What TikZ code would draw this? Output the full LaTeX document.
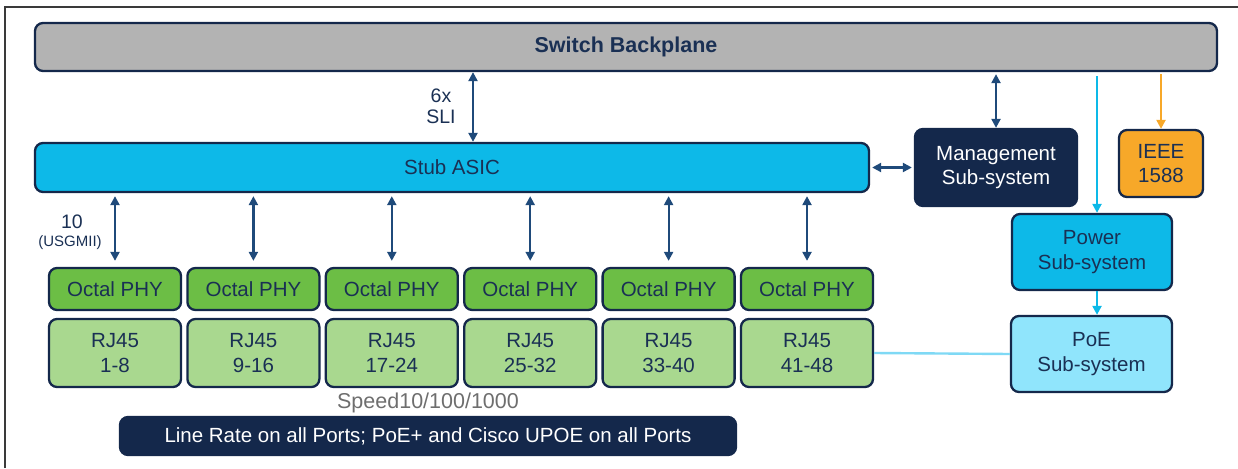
\documentclass[tikz,border=0pt]{standalone}
\usepackage{fontspec}
\setmainfont{Liberation Sans}
\usetikzlibrary{arrows.meta}
\definecolor{navy}{HTML}{14284B}
\definecolor{arrowblue}{HTML}{1F4A7A}
\definecolor{txtblue}{HTML}{1A3054}
\definecolor{framegray}{HTML}{3A3A3A}
\definecolor{plane}{HTML}{B3B3B3}
\definecolor{asicblue}{HTML}{0DB9E8}
\definecolor{poeblue}{HTML}{90E5FC}
\definecolor{ieeeorange}{HTML}{F7A829}
\definecolor{phygreen}{HTML}{6CBE45}
\definecolor{rjgreen}{HTML}{A9D88F}
\definecolor{speedgray}{HTML}{6E6E6E}
\definecolor{poeline}{HTML}{7FD9F5}
\tikzset{
	blk/.style = {draw = navy, line width = 2.3pt, rounded corners = 8pt, inner sep = 0pt, align = center, text = txtblue, font = \fontsize{20.5}{24.5}\selectfont},
	link/.style = {draw = arrowblue, line width = 2.2pt, {Triangle[length=9pt,width=9pt]}-{Triangle[length=9pt,width=9pt]}},
	feed/.style = {line width = 2.2pt, -{Triangle[length=9pt,width=9pt]}},
	lbl/.style = {text = txtblue, align = center, inner sep = 0pt}
}
\newcommand{\subsys}{\node[blk]}
\newcommand{\phybox}{\node[blk, fill = phygreen, minimum width = 132pt, minimum height = 42pt]}
\newcommand{\rjbox}{\node[blk, fill = rjgreen, minimum width = 132pt, minimum height = 68pt]}
\begin{document}
\begin{tikzpicture}[x = 1pt, y = -1pt]
	\useasboundingbox (0,0) rectangle (1238,468);
	\draw[draw = framegray, line width = 1.6pt] (5,468) -- (5,7) -- (1238,7);
	\subsys (bp) [fill = plane, minimum width = 1182pt, minimum height = 48pt, font = \fontsize{21.5}{24}\selectfont\bfseries] at (626,47) {Switch Backplane};
	\subsys (asic) [fill = asicblue, minimum width = 834pt, minimum height = 49pt] at (452,167.5) {Stub ASIC};
	\subsys (mgmt) [fill = navy, text = white, minimum width = 162pt, minimum height = 77pt] at (996,167.5) {Management\\Sub-system};
	\subsys (ieee) [fill = ieeeorange, minimum width = 84pt, minimum height = 67pt] at (1161,163.5) {IEEE\\1588};
	\subsys (power) [fill = asicblue, minimum width = 160pt, minimum height = 76pt] at (1092,252) {Power\\Sub-system};
	\subsys (poe) [fill = poeblue, minimum width = 161pt, minimum height = 76pt] at (1091.5,354) {PoE\\Sub-system};
	\phybox (phya) at (115,289) {Octal PHY};
	\phybox (phyb) at (253.4,289) {Octal PHY};
	\phybox (phyc) at (391.8,289) {Octal PHY};
	\phybox (phyd) at (530.2,289) {Octal PHY};
	\phybox (phye) at (668.6,289) {Octal PHY};
	\phybox (phyf) at (807,289) {Octal PHY};
	\rjbox (rja) at (115,353) {RJ45\\1-8};
	\rjbox (rjb) at (253.4,353) {RJ45\\9-16};
	\rjbox (rjc) at (391.8,353) {RJ45\\17-24};
	\rjbox (rjd) at (530.2,353) {RJ45\\25-32};
	\rjbox (rje) at (668.6,353) {RJ45\\33-40};
	\rjbox (rjf) at (807,353) {RJ45\\41-48};
	\subsys (rate) [fill = navy, text = white, minimum width = 616pt, minimum height = 38pt] at (428,436) {Line Rate on all Ports; PoE+ and Cisco UPOE on all Ports};
	\node[lbl, font = \fontsize{19.5}{21.5}\selectfont] (sli) at (441,106.5) {6x\\SLI};
	\node[lbl, font = \fontsize{19.5}{22}\selectfont] (ten) at (72,222) {10};
	\node[lbl, font = \fontsize{15}{16}\selectfont] (usg) at (70,243) {(USGMII)};
	\node[lbl, text = speedgray, font = \fontsize{21.5}{24}\selectfont] (speed) at (428,403) {Speed10/100/1000};
	\draw[link] ([xshift=21pt]asic.north) -- ([xshift=21pt]asic.north |- bp.south);
	\draw[link, shorten <=2pt] (mgmt.north |- bp.south) -- (mgmt.north);
	\draw[link, shorten <=2pt, shorten >=2pt] (asic.east) -- (mgmt.west);
	\draw[feed, draw = asicblue, shorten <=4pt] ([xshift=5pt]power.north |- bp.south) -- ([xshift=5pt]power.north);
	\draw[feed, draw = ieeeorange, shorten <=2pt] (ieee.north |- bp.south) -- (ieee.north);
	\draw[feed, draw = asicblue] ([xshift=5pt]power.south) -- ([xshift=5.5pt]poe.north);
	\draw[draw = poeline, line width = 2.4pt] (rjf.east) -- (poe.west);
	\draw[link, shorten <=3pt, shorten >=6pt] (phya.north |- asic.south) -- (phya.north);
	\draw[link, shorten <=3pt, shorten >=6pt] (phyb.north |- asic.south) -- (phyb.north);
	\draw[link, shorten <=3pt, shorten >=6pt] (phyc.north |- asic.south) -- (phyc.north);
	\draw[link, shorten <=3pt, shorten >=6pt] (phyd.north |- asic.south) -- (phyd.north);
	\draw[link, shorten <=3pt, shorten >=6pt] (phye.north |- asic.south) -- (phye.north);
	\draw[link, shorten <=3pt, shorten >=6pt] (phyf.north |- asic.south) -- (phyf.north);
\end{tikzpicture}
\end{document}
